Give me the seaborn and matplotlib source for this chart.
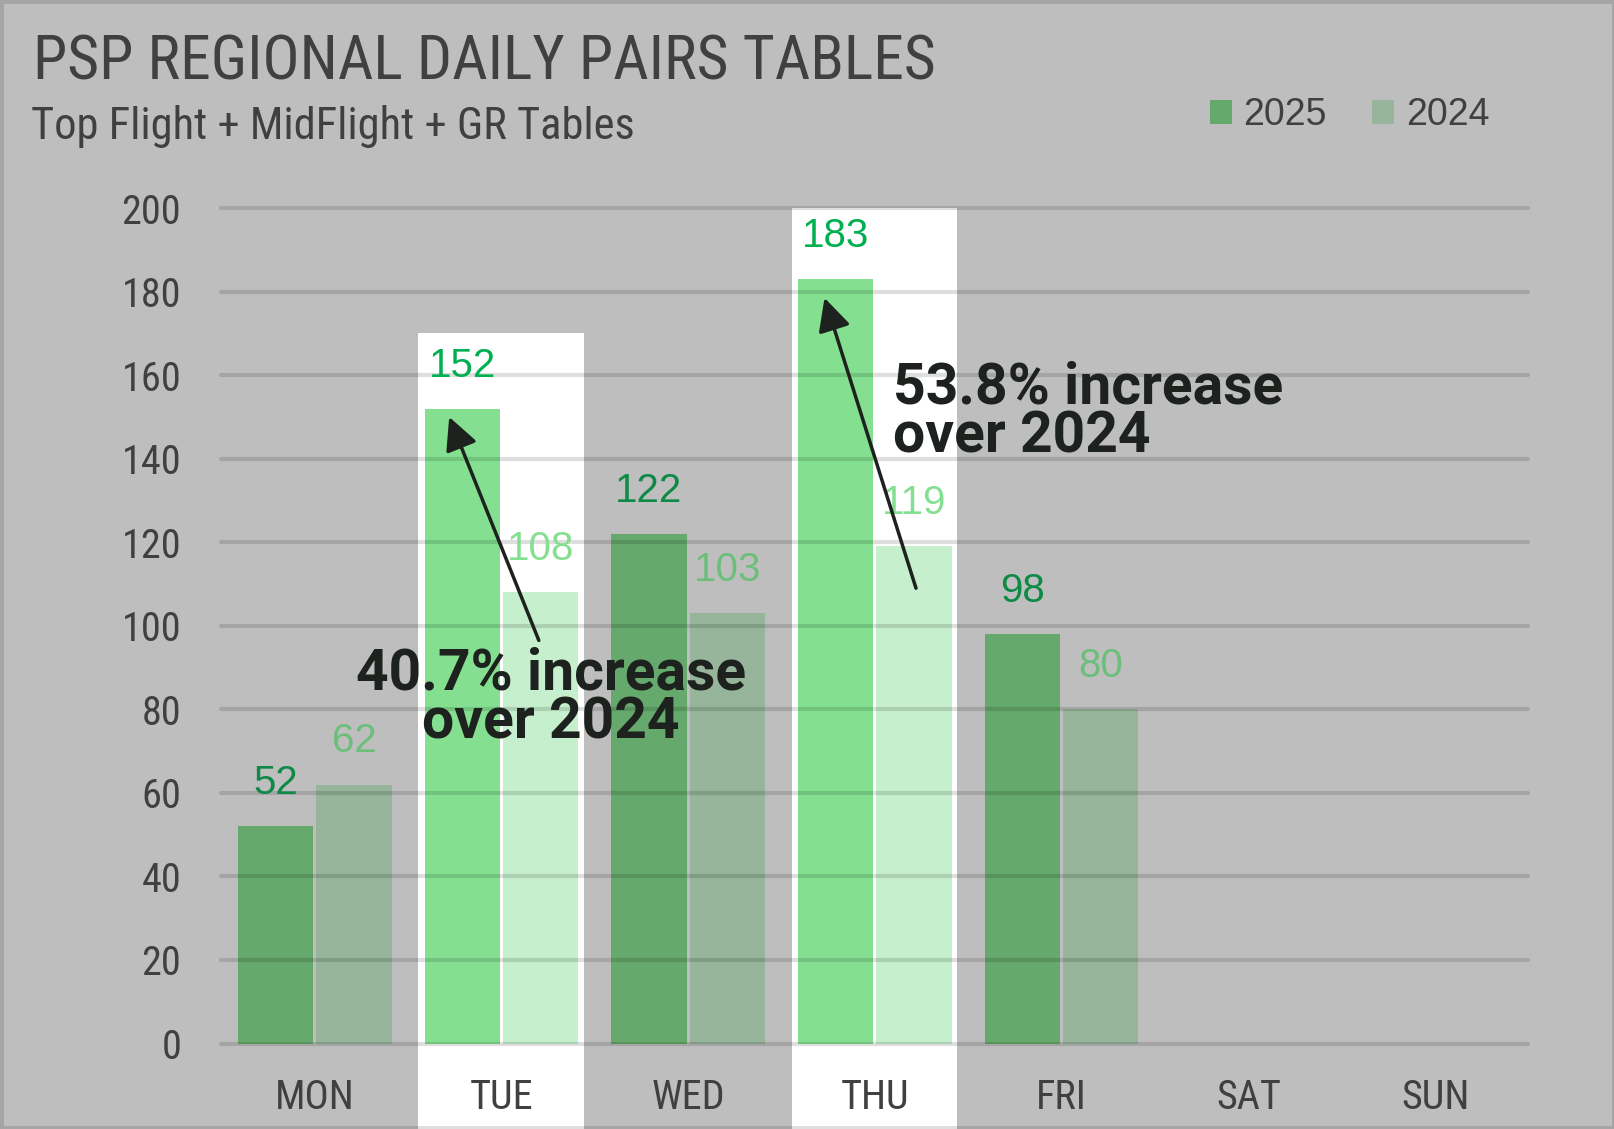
import pandas as pd
import matplotlib.pyplot as plt
import seaborn as sns
from matplotlib import font_manager
from matplotlib.patches import Rectangle, Patch


OUTPUT_PATH = "out.png"

DAYS = ["MON", "TUE", "WED", "THU", "FRI", "SAT", "SUN"]
DAYS_WITH_DATA = ["MON", "TUE", "WED", "THU", "FRI"]
YEARS = ["2025", "2024"]
PAIRS_2025 = [52, 152, 122, 183, 98]
PAIRS_2024 = [62, 108, 103, 119, 80]
HIGHLIGHT_DAYS = ["TUE", "THU"]
HIGHLIGHT_TOPS = [170, 200]
Y_TICKS = list(range(0, 201, 20))

TITLE = "PSP REGIONAL DAILY PAIRS TABLES"
SUBTITLE = "Top Flight + MidFlight + GR Tables"
NOTE_TUE = "40.7% increase\nover 2024"
NOTE_THU = "53.8% increase\nover 2024"

BG = "#BEBEBE"
TEXT = "#404040"
DARK = "#1E221E"
BAR_COLORS = {"2025": "#66A96D", "2024": "#96B59A"}
BAR_COLORS_HI = {"2025": "#84E090", "2024": "#C6F0CD"}
LABEL_COLORS = {"2025": "#0E8A47", "2024": "#6CBF7A"}
LABEL_COLORS_HI = {"2025": "#00B050", "2024": "#84E090"}

REGULAR = ["Liberation Sans", "DejaVu Sans"]
NOTE_FONT = ["Roboto", "DejaVu Sans"]


def pick_narrow_font():
    # use the most condensed sans that is installed
    fonts = font_manager.fontManager.ttflist
    names = {f.name for f in fonts}
    for name in ["Liberation Sans Narrow", "Roboto Condensed",
                 "Open Sans Condensed", "Noto Sans Condensed"]:
        if name in names:
            return {"family": [name, "DejaVu Sans"]}
    for f in fonts:
        if f.name == "DejaVu Sans" and "condensed" in str(f.stretch):
            return {"family": ["DejaVu Sans"], "stretch": "condensed"}
    return {"family": ["Roboto", "DejaVu Sans"]}


NARROW = pick_narrow_font()


def plot_daily_pairs():

    sns.set_theme(style="white")
    plt.rcParams["font.family"] = REGULAR

    df = pd.DataFrame({
        "day": DAYS_WITH_DATA * 2,
        "pairs": PAIRS_2025 + PAIRS_2024,
        "year": ["2025"] * len(PAIRS_2025) + ["2024"] * len(PAIRS_2024),
    })

    fig = plt.figure(figsize=(16.15, 11.29), dpi=100, facecolor=BG)
    ax = fig.add_axes([0.1371, 0.0757, 0.8093, 0.740])
    ax.set_facecolor("none")

    # white columns behind the highlighted days
    for day, top in zip(HIGHLIGHT_DAYS, HIGHLIGHT_TOPS):
        i = DAYS.index(day)
        ax.add_patch(Rectangle((i - 0.445, -40), 0.885, top + 40,
                               facecolor="white", edgecolor="none",
                               zorder=0.5, clip_on=False))

    sns.barplot(
        data=df, x="day", y="pairs", hue="year",
        order=DAYS, hue_order=YEARS,
        palette=BAR_COLORS, saturation=1,
        width=0.84, gap=0.04, legend=False,
        ax=ax, zorder=2
    )

    # recolour and label each bar
    for container, year in zip(ax.containers, YEARS):
        for bar in container:
            h = bar.get_height()
            if pd.isna(h) or h == 0:
                continue
            cx = bar.get_x() + bar.get_width() / 2
            day = DAYS[int(round(cx))]
            hi = day in HIGHLIGHT_DAYS
            bar.set_facecolor(BAR_COLORS_HI[year] if hi else BAR_COLORS[year])
            bar.set_edgecolor("none")
            ax.annotate(
                f"{int(h)}", xy=(cx, h), xytext=(0, 31),
                textcoords="offset points", ha="center", va="center",
                fontsize=29, family=REGULAR, zorder=5,
                color=LABEL_COLORS_HI[year] if hi else LABEL_COLORS[year]
            )

    # gridlines on top, semi transparent
    for y in Y_TICKS:
        ax.axhline(y, color="black", alpha=0.13, lw=3, zorder=3, clip_on=False)

    ax.set_xlim(-0.5, 6.5)
    ax.set_ylim(0, 200)
    ax.set_yticks(Y_TICKS)
    ax.set_xlabel("")
    ax.set_ylabel("")
    sns.despine(ax=ax, left=True, bottom=True)
    ax.tick_params(axis="both", length=0, colors=TEXT)
    ax.tick_params(axis="x", pad=25)
    ax.tick_params(axis="y", pad=29)
    for lab in ax.get_xticklabels() + ax.get_yticklabels():
        lab.set_fontfamily(NARROW["family"])
        if "stretch" in NARROW:
            lab.set_fontstretch(NARROW["stretch"])
        lab.set_fontsize(29)
        lab.set_color(TEXT)

    # arrows and notes
    ax.annotate("", xy=(0.72, 150), xytext=(1.20, 96.5),
                arrowprops=dict(arrowstyle="-|>", color=DARK, lw=2.5,
                                mutation_scale=50, shrinkA=0, shrinkB=0),
                zorder=6)
    ax.annotate("", xy=(2.73, 178.5), xytext=(3.22, 109),
                arrowprops=dict(arrowstyle="-|>", color=DARK, lw=2.5,
                                mutation_scale=50, shrinkA=0, shrinkB=0),
                zorder=6)
    ax.text(1.266, 73.0, NOTE_TUE, ha="center", va="baseline",
            multialignment="center", linespacing=0.86,
            fontsize=41, fontweight="bold", family=NOTE_FONT,
            color=DARK, zorder=7)
    ax.text(3.099, 141.6, NOTE_THU, ha="left", va="baseline",
            multialignment="left", linespacing=0.86,
            fontsize=41, fontweight="bold", family=NOTE_FONT,
            color=DARK, zorder=7)

    # titles
    fig.text(0.0205, 0.930, TITLE, ha="left", va="baseline",
             fontsize=44.4, color=TEXT, **NARROW)
    fig.text(0.0195, 0.877, SUBTITLE, ha="left", va="baseline",
             fontsize=32, color=TEXT, **NARROW)

    # legend
    handles = [Patch(facecolor=BAR_COLORS[y], edgecolor="none", label=y)
               for y in YEARS]
    fig.legend(handles=handles, loc="center left",
               bbox_to_anchor=(0.749, 0.898), ncol=2, frameon=False,
               fontsize=27, handlelength=0.6, handleheight=0.6,
               handletextpad=0.3, columnspacing=1.2,
               borderpad=0, borderaxespad=0, labelcolor=TEXT)

    # figure border
    fig.add_artist(Rectangle((0, 0), 1, 1, transform=fig.transFigure,
                             fill=False, edgecolor="black", alpha=0.13,
                             lw=5, zorder=10))

    plt.savefig(OUTPUT_PATH, dpi=100, facecolor=BG)


if __name__ == "__main__":

    plot_daily_pairs()
